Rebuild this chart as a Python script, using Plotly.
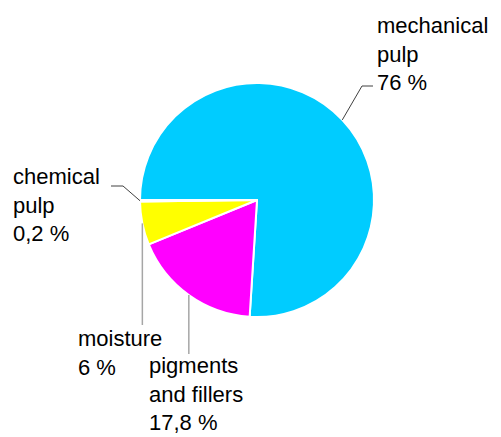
import math
import plotly.graph_objects as go

# ---- data ----
components = ["mechanical pulp", "pigments and fillers", "moisture", "chemical pulp"]
label_lines = [["mechanical", "pulp"], ["pigments", "and fillers"], ["moisture"], ["chemical", "pulp"]]
shares = [76, 17.8, 6, 0.2]
colors = ["#00CCFF", "#FF00FF", "#FFFF00", "#FFFFFF"]

# ---- layout constants (pixels) ----
W, H = 501, 437
CX, CY, R = 257, 200, 117
FONT = dict(family="Liberation Sans, Arial, sans-serif", size=22, color="#000000")

def px(x):
    return x / W

def py(y):
    return 1 - y / H

fig = go.Figure(go.Pie(
    labels=components,
    values=shares,
    sort=False,
    direction="clockwise",
    rotation=270,
    marker=dict(colors=colors, line=dict(color="#FFFFFF", width=2)),
    textinfo="none",
    hoverinfo="label+percent",
    showlegend=False,
    domain=dict(x=[px(CX - R), px(CX + R)], y=[py(CY + R), py(CY - R)]),
))

# mid angles of slices (clockwise from 12 o'clock), computed from data
total = sum(shares)
mid_pts = []
acc = 0
for v in shares:
    ang = math.radians(270 + (acc + v / 2) / total * 360)
    mid_pts.append((CX + R * math.sin(ang), CY - R * math.cos(ang)))
    acc += v

def fmt(v):
    s = f"{v:g}".replace(".", ",")
    return f"{s} %"

# leader-line routing (elbow / end points, pixels)
routes = [
    dict(pts=[(362, 86), (373, 86)], color="#404040", width=1),
    dict(pts=[(None, 354)], color="#A6A6A6", width=1.5),
    dict(pts=[(None, 325)], color="#A6A6A6", width=1.5),
    dict(pts=[(123, 186), (111, 186)], color="#404040", width=1),
]
# label anchor (left, top) in pixels
label_pos = [(375, 11), (147, 351), (76, 324), (11, 162)]

shapes = []
annotations = []
for i in range(len(shares)):
    sx, sy = mid_pts[i]
    pts = [(sx, sy)]
    for (x, y) in routes[i]["pts"]:
        pts.append((sx if x is None else x, y))
    path = "M " + " L ".join(f"{px(x):.5f},{py(y):.5f}" for x, y in pts)
    shapes.append(dict(type="path", xref="paper", yref="paper", path=path,
                       line=dict(color=routes[i]["color"], width=routes[i]["width"])))
    text = "<br>".join(label_lines[i] + [fmt(shares[i])])
    lx, ly = label_pos[i]
    annotations.append(dict(text=text, x=px(lx), y=py(ly), xref="paper", yref="paper",
                            xanchor="left", yanchor="top", align="left",
                            showarrow=False, font=FONT))

fig.update_layout(
    width=W, height=H,
    margin=dict(l=0, r=0, t=0, b=0),
    paper_bgcolor="#FFFFFF",
    plot_bgcolor="#FFFFFF",
    shapes=shapes,
    annotations=annotations,
)

fig.write_html("out.html", config={"displayModeBar": False},
               post_script="document.body.style.margin='0';")
